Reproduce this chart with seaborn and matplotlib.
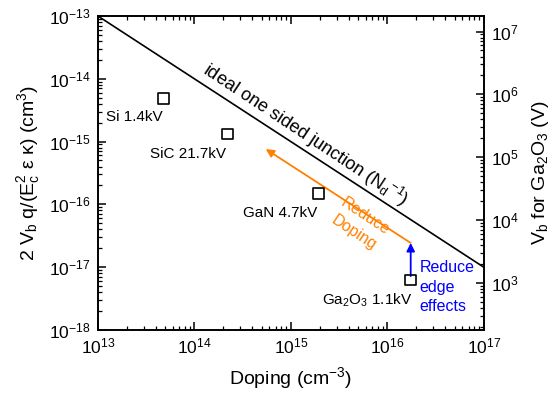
import matplotlib
matplotlib.use("Agg")
import matplotlib.pyplot as plt
import matplotlib.ticker as mticker
import seaborn as sns
import numpy as np
import pandas as pd

# ---- data ----
materials = ["Si", "SiC", "GaN", "Ga2O3"]
doping = [4.8e13, 2.2e14, 1.95e15, 1.75e16]
normalized_vb = [4.8e-15, 1.32e-15, 1.5e-16, 6.25e-18]
point_labels = ["Si 1.4kV", "SiC 21.7kV", "GaN 4.7kV", "Ga$_2$O$_3$ 1.1kV"]

ideal_doping = [1e13, 1e17]
ideal_y = [1e-13, 1e-17]

ga2o3_factor = 1.77e20  # V_b(Ga2O3) = y * factor

df = pd.DataFrame({"material": materials, "doping": doping, "y": normalized_vb})
ideal_df = pd.DataFrame({"doping": ideal_doping, "y": ideal_y})

sns.set_style("ticks")
plt.rcParams["font.family"] = ["Liberation Sans", "DejaVu Sans"]
plt.rcParams["mathtext.fontset"] = "custom"
plt.rcParams["mathtext.rm"] = "Liberation Sans"
plt.rcParams["mathtext.it"] = "Liberation Sans:italic"
plt.rcParams["mathtext.default"] = "regular"
for k in ["text.color", "axes.labelcolor", "xtick.color", "ytick.color", "axes.edgecolor"]:
    plt.rcParams[k] = "black"

fig = plt.figure(figsize=(5.56, 3.99), dpi=100)
ax = fig.add_axes([0.176, 0.173, 0.694, 0.787])

sns.lineplot(data=ideal_df, x="doping", y="y", ax=ax, color="black", lw=1.2)
sns.scatterplot(data=df, x="doping", y="y", ax=ax, marker="s", s=60,
                facecolor="none", edgecolor="black", linewidth=1.2, zorder=5)


def in_range_ticks(lo, hi, subs=(1.0,)):
    vals = mticker.LogLocator(base=10, subs=subs, numticks=20).tick_values(lo, hi)
    return [v for v in vals if lo * 0.999 <= v <= hi * 1.001]


def style_log_axis(axis, lo, hi):
    axis.set_major_locator(mticker.FixedLocator(in_range_ticks(lo, hi)))
    axis.set_minor_locator(mticker.FixedLocator(in_range_ticks(lo, hi, subs=np.arange(2, 10))))
    axis.set_major_formatter(mticker.LogFormatterSciNotation(base=10))
    axis.set_minor_formatter(mticker.NullFormatter())


ax.set_xscale("log")
ax.set_yscale("log")
xlim = (1e13, 1e17)
ylim = (1e-18, 1e-13)
ax.set_xlim(*xlim)
ax.set_ylim(*ylim)
style_log_axis(ax.xaxis, *xlim)
style_log_axis(ax.yaxis, *ylim)
ax.set_xlabel("Doping (cm$^{-3}$)", fontsize=14, labelpad=6)
ax.set_ylabel("2 V$_b$ q/(E$_c^2$ ε κ) (cm$^3$)", fontsize=14, labelpad=5)

for sp in ax.spines.values():
    sp.set_linewidth(1.2)
    sp.set_color("black")
    sp.set_visible(True)

ax.tick_params(axis="both", which="major", direction="in", length=6, width=1.1,
               labelsize=12.5, top=True, right=False, pad=5, color="black",
               labelcolor="black")
ax.tick_params(axis="both", which="minor", direction="in", length=3, width=0.9,
               top=True, right=False, color="black")

# right axis
ax2 = ax.twinx()
ax2.set_yscale("log")
ylim2 = (ylim[0] * ga2o3_factor, ylim[1] * ga2o3_factor)
ax2.set_ylim(*ylim2)
style_log_axis(ax2.yaxis, *ylim2)
ax2.tick_params(axis="y", which="major", direction="in", length=6, width=1.1,
                labelsize=12.5, pad=5, color="black", labelcolor="black")
ax2.tick_params(axis="y", which="minor", direction="in", length=3, width=0.9, color="black")
ax2.set_ylabel("V$_b$ for Ga$_2$O$_3$ (V)", fontsize=14, labelpad=8)
for sp in ax2.spines.values():
    sp.set_linewidth(1.2)
    sp.set_color("black")

# point labels
label_pos = [(1.21e13, 2.47e-15), (3.46e13, 6.35e-16), (3.18e14, 7.3e-17), (2.1e15, 3.0e-18)]
for (lx, ly), t in zip(label_pos, point_labels):
    ax.text(lx, ly, t, fontsize=11, ha="left", va="center")

ax.text(1.42e15, 1.30e-15, "ideal one sided junction (N$_d$$^{-1}$)", fontsize=13,
        rotation=-33.5, ha="center", va="center", rotation_mode="anchor")

# orange arrow (reduce doping)
ax.annotate("", xy=(5.5e14, 7.6e-16), xytext=(doping[3], 2.43e-17),
            arrowprops=dict(arrowstyle="-|>", color="#FF8000", lw=1.3,
                            mutation_scale=12, shrinkA=0, shrinkB=0))
ax.text(5.19e15, 4.7e-17, "Reduce\nDoping", color="#FF8000", fontsize=11.5,
        rotation=-33.5, ha="center", va="center", rotation_mode="anchor",
        multialignment="center", linespacing=1.4)

# blue arrow (reduce edge effects)
ax.annotate("", xy=(doping[3], 2.43e-17), xytext=(doping[3], 7.2e-18),
            arrowprops=dict(arrowstyle="-|>", color="#0000FF", lw=1.3,
                            mutation_scale=12, shrinkA=0, shrinkB=0))
ax.text(2.17e16, 4.8e-18, "Reduce\nedge\neffects", color="#0000FF", fontsize=11.5,
        ha="left", va="center", linespacing=1.35)

fig.savefig("out.png", dpi=100)
